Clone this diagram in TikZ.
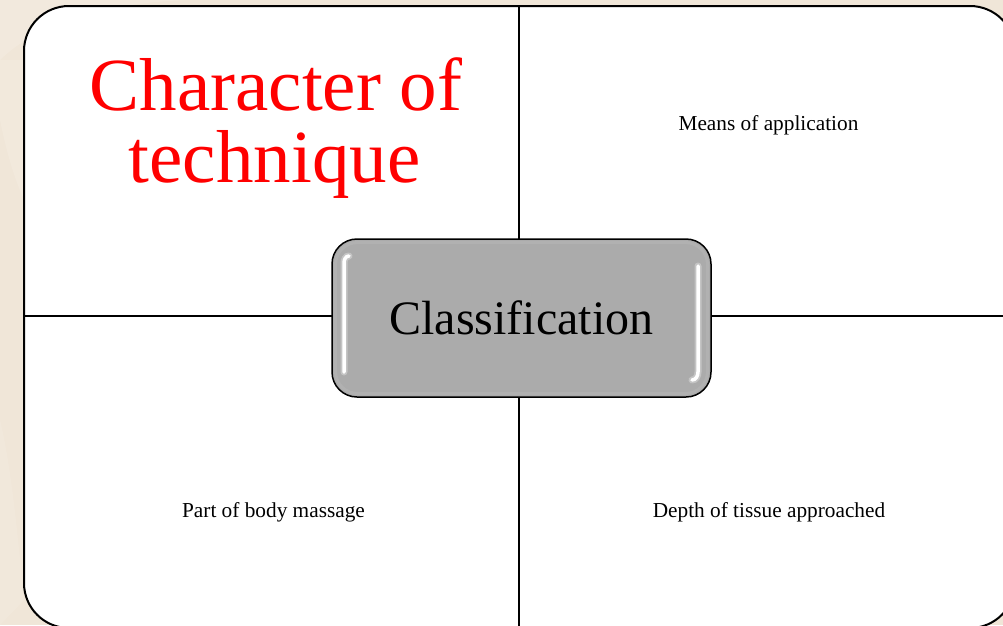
\documentclass[tikz,border=0pt]{standalone}
\usepackage{fontspec}
\setmainfont{Liberation Serif}
\begin{document}
\begin{tikzpicture}[x=1pt,y=-1pt,
  frame/.style={draw=black,line width=2pt,fill=white,rounded corners=45pt},
  divider/.style={draw=black,line width=1.6pt},
  centerbox/.style={draw=black,line width=1.5pt,fill=boxgray,rounded corners=25pt,
    minimum width=379pt,minimum height=158pt,inner sep=0pt,
    font=\fontsize{48}{50}\selectfont,text=black},
  titletext/.style={font=\fontsize{75}{72}\selectfont,text=titlered,anchor=base,inner sep=0pt},
  labeltext/.style={font=\fontsize{21.3}{24}\selectfont,text=black,anchor=base,inner sep=0pt},
  gloss/.style={draw=white,line cap=round}
]
\definecolor{paper}{HTML}{F0E6D8}
\definecolor{paperlight}{HTML}{F4ECE1}
\definecolor{boxgray}{HTML}{ABABAB}
\definecolor{titlered}{HTML}{FF0000}

% paper background with faint lighter swirls
\useasboundingbox (0,0) rectangle (1003,625);
\clip (0,0) rectangle (1003,625);
\fill[paper] (0,0) rectangle (1003,625);
\fill[paperlight,opacity=0.6] (0,60) .. controls (40,20) and (120,0) .. (200,0) -- (0,0) -- cycle;
\fill[paperlight,opacity=0.5] (0,120) .. controls (10,170) and (20,190) .. (24,200) -- (24,60) -- (0,60) -- cycle;
\fill[paperlight,opacity=0.4] (0,420) .. controls (12,470) and (18,540) .. (24,600) -- (0,625) -- cycle;

% white panel divided into four quarters
\draw[frame] (24,6) rectangle (1015,628);
\coordinate (vtop) at (519,6);
\coordinate (vbot) at (519,628);
\coordinate (hleft) at (24,316);
\coordinate (hright) at (1015,316);
\draw[divider] (vtop) -- (vbot);
\draw[divider] (hleft) -- (hright);

% central button
\node[centerbox] (cls) at (521.5,318) {Classification};
\draw[line width=3pt,draw=gray!55,opacity=0.45,rounded corners=22pt]
  (335.5,242.5) rectangle (707.5,393.5);

% glossy highlights on the button
\draw[gloss,line width=7pt,opacity=0.3] (344,372) -- (344,263) to[out=90,in=180] (349,256);
\draw[gloss,line width=3.5pt] (344,372) -- (344,263) to[out=90,in=180] (349,256);
\draw[gloss,line width=7pt,opacity=0.3] (698,266) -- (698,372) to[out=-90,in=0] (692,380);
\draw[gloss,line width=3.5pt] (698,266) -- (698,372) to[out=-90,in=0] (692,380);

% quarter labels
\node[titletext] (title1) at (276,110) {Character of};
\node[titletext] (title2) at (274.5,182) {technique};
\node[labeltext] (means) at (768.5,130) {Means of application};
\node[labeltext] (part) at (273.5,517) {Part of body massage};
\node[labeltext] (depth) at (769,517) {Depth of tissue approached};
\end{tikzpicture}
\end{document}
